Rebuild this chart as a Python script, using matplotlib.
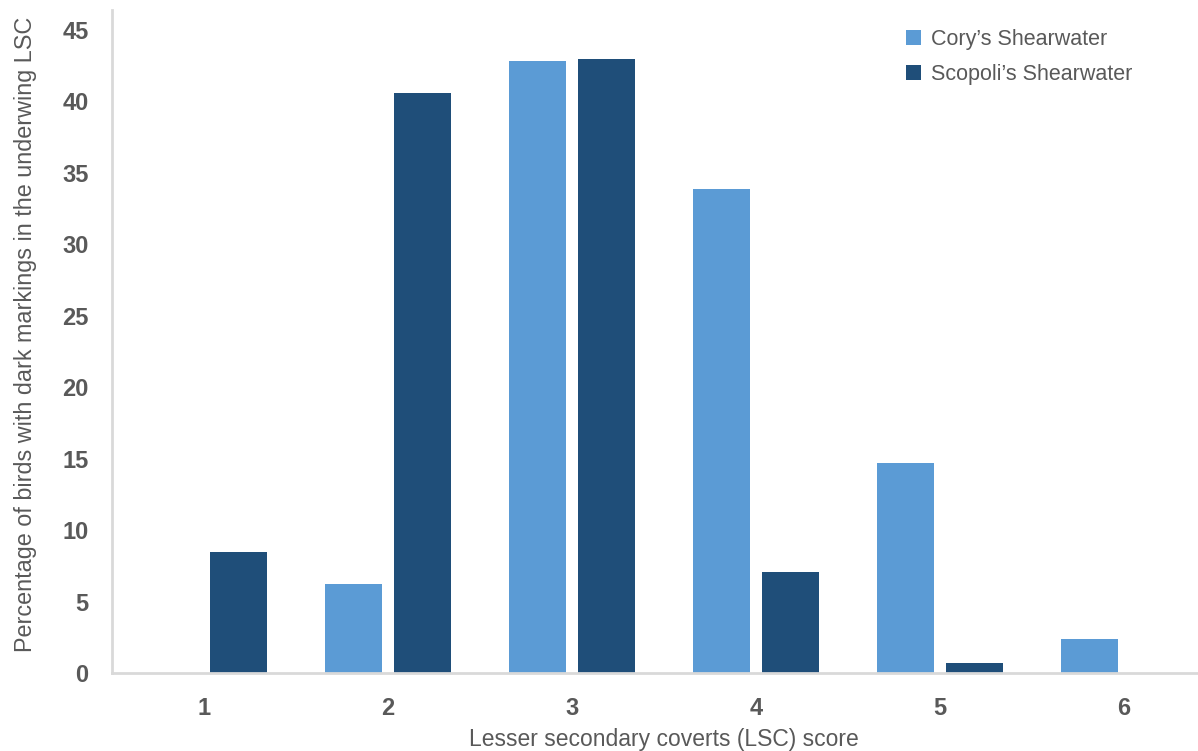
import numpy as np
import matplotlib.pyplot as plt

scores = ["1", "2", "3", "4", "5", "6"]
cory = [0, 6.2, 42.8, 33.9, 14.7, 2.4]
scopoli = [8.5, 40.6, 43.0, 7.1, 0.7, 0]
series_names = ["Cory\u2019s Shearwater", "Scopoli\u2019s Shearwater"]

plt.rcParams['font.family'] = ['Liberation Sans', 'DejaVu Sans']
grey = "#595959"

fig = plt.figure(figsize=(11.98, 7.51), dpi=100)
ax = fig.add_axes([112 / 1198, 78 / 751, 1104 / 1198, 663 / 751])

x = np.arange(len(scores))
w = 0.315
off = 0.1875
ax.bar(x - off, cory, w, color="#5B9BD5", label=series_names[0])
ax.bar(x + off, scopoli, w, color="#1F4E79", label=series_names[1])

ax.set_xlim(-0.5, len(scores) - 0.5)
ax.set_ylim(0, 46.4)
ax.set_yticks(np.arange(0, 50, 5))
ax.set_xticks(x)
ax.set_xticklabels(scores)

for s in ["top", "right"]:
    ax.spines[s].set_visible(False)
for s in ["left", "bottom"]:
    ax.spines[s].set_color("#d9d9d9")
    ax.spines[s].set_linewidth(2)

ax.tick_params(axis="both", length=0, colors=grey, labelsize=17)
ax.tick_params(axis="x", pad=17)
ax.tick_params(axis="y", pad=17)
for lab in ax.get_xticklabels() + ax.get_yticklabels():
    lab.set_fontweight("bold")

# y label sits a touch above the axes centre, as in the reference
ax.set_ylabel("Percentage of birds with dark markings in the underwing LSC",
              fontsize=16.8, color=grey)
ax.yaxis.set_label_coords(-0.068, 0.51)
ax.set_xlabel("Lesser secondary coverts (LSC) score", fontsize=16.5, color=grey,
              labelpad=6)

leg = ax.legend(loc="upper left", bbox_to_anchor=(775 / 1104, 1.0), frameon=False,
                fontsize=15.5, handlelength=0.7, handleheight=0.7, handletextpad=0.45,
                labelspacing=0.65, labelcolor=grey)

fig.savefig("out.png", dpi=100)
